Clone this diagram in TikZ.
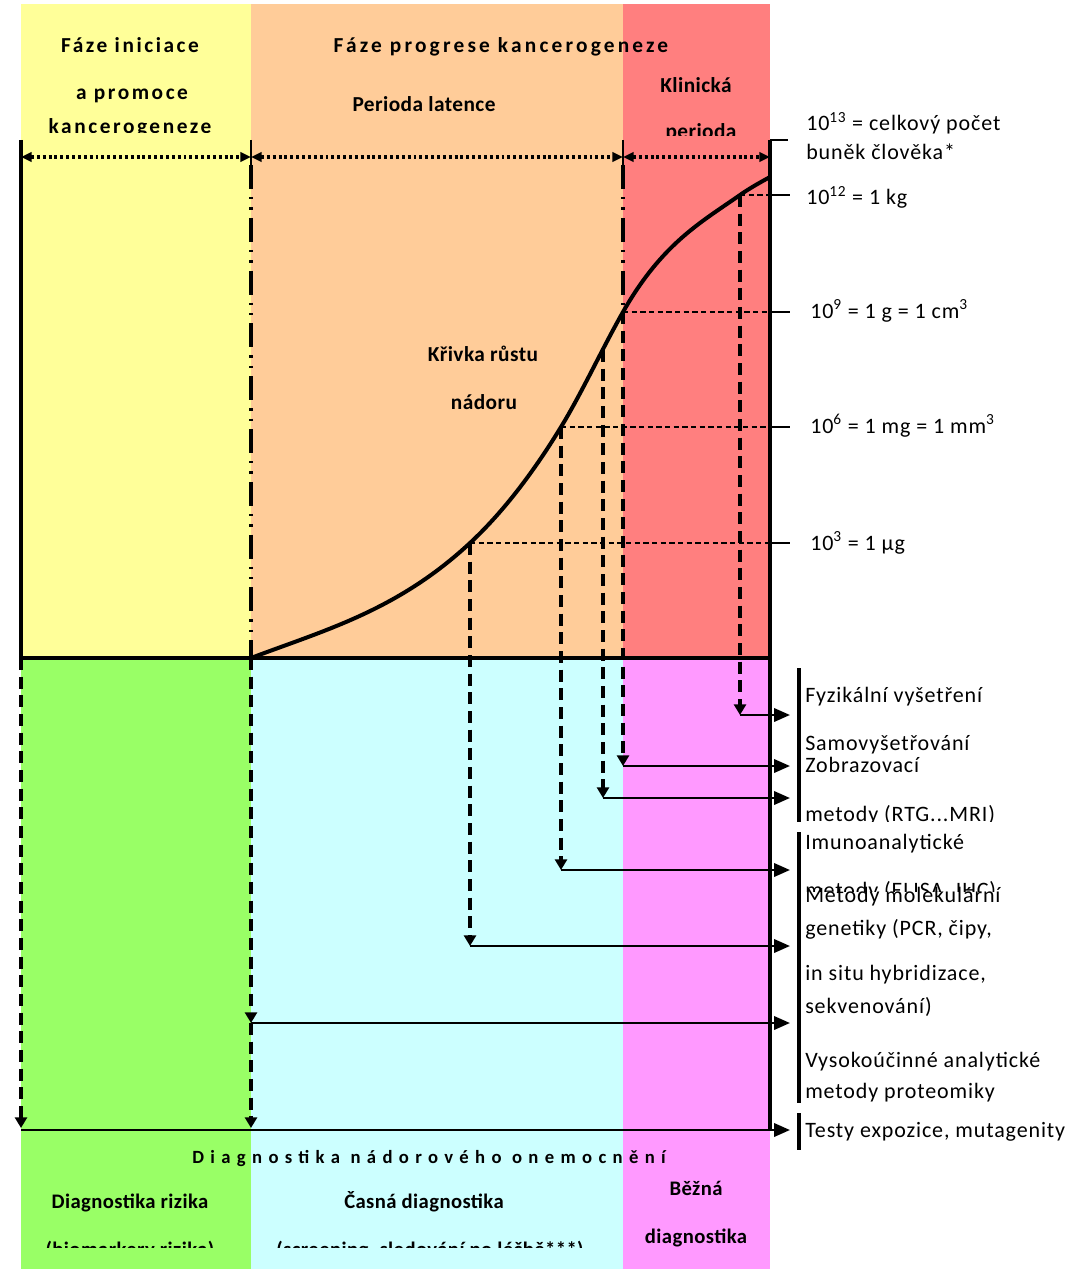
\documentclass[tikz,border=0pt]{standalone}
\usepackage{fontspec}
\setmainfont{Carlito}
\newfontfamily\hdrfont[LetterSpace=12]{Carlito}
\newfontfamily\hdrwfont[LetterSpace=15]{Carlito}
\newfontfamily\widefont[LetterSpace=34]{Carlito}
\newfontfamily\regfont[LetterSpace=4]{Carlito}
\newfontfamily\bldfont[LetterSpace=2]{Carlito}
\usetikzlibrary{arrows.meta}
\definecolor{cY}{HTML}{FFFF99}
\definecolor{cO}{HTML}{FFCC99}
\definecolor{cR}{HTML}{FF7F7F}
\definecolor{cG}{HTML}{99FF66}
\definecolor{cC}{HTML}{CCFFFF}
\definecolor{cP}{HTML}{FF99FF}
\tikzset{
  thickln/.style={line width=3pt},
  curveln/.style={line width=3pt, line cap=round},
  vdash/.style={line width=2.6pt, dash pattern=on 9pt off 5pt, -{Triangle[length=8pt,width=9pt]}},
  hdash/.style={line width=1.1pt, dash pattern=on 4pt off 2.5pt},
  ddot/.style={line width=2.4pt, dash pattern=on 18pt off 6pt on 1.8pt off 6pt on 1.8pt off 6pt},
  dimln/.style={line width=2.6pt, dash pattern=on 2.2pt off 2.2pt, {Triangle[length=8pt,width=7pt]}-{Triangle[length=8pt,width=7pt]}},
  harrow/.style={line width=2pt, -{Triangle[length=12pt,width=10pt]}},
  tickln/.style={line width=1.1pt},
  bracketln/.style={line width=3pt},
  hdr/.style={font={\hdrfont\bfseries\fontsize{16}{19}\selectfont}, inner sep=0pt, anchor=base},
  hdrw/.style={font={\hdrwfont\bfseries\fontsize{16}{19}\selectfont}, inner sep=0pt, anchor=base},
  bld/.style={font={\bldfont\bfseries\fontsize{16}{19}\selectfont}, inner sep=0pt, anchor=base},
  bldb/.style={font={\bldfont\bfseries\fontsize{15.5}{19}\selectfont}, inner sep=0pt, anchor=base},
  widetxt/.style={font={\widefont\bfseries\fontsize{14}{16}\selectfont}, inner sep=0pt, anchor=base},
  reg/.style={font={\regfont\fontsize{16.5}{19}\selectfont}, inner sep=0pt, anchor=base west},
}
\begin{document}
\begin{tikzpicture}[x=0.75pt,y=-0.75pt]
\useasboundingbox (0,0) rectangle (1078,1269);
% background bands
\fill[cY] (21,4) rectangle (251,658);
\fill[cO] (251,4) rectangle (623,658);
\fill[cR] (623,4) rectangle (770,658);
\fill[cG] (21,658) rectangle (251,1269);
\fill[cC] (251,658) rectangle (623,1269);
\fill[cP] (623,658) rectangle (770,1269);

% coordinates
\coordinate (L0) at (21,140);
\coordinate (L1) at (21,658);
\coordinate (L2) at (21,1128);
\coordinate (L3) at (21,1130);
\coordinate (R0) at (770,140);
\coordinate (R1) at (770,1130);
\coordinate (Rt) at (788,140);
\coordinate (A0) at (251,140);
\coordinate (A1) at (251,165);
\coordinate (A2) at (251,658);
\coordinate (A3) at (251,1023);
\coordinate (A4) at (251,1128);
\coordinate (B0) at (623,140);
\coordinate (B1) at (623,165);
\coordinate (P12) at (740,195);
\coordinate (P9) at (623,312);
\coordinate (P8) at (603,350);
\coordinate (P6) at (561,427);
\coordinate (P3) at (470,543);
\coordinate (PE) at (770,177);

% main frame lines
\draw[thickln] (L0) -- (L1);
\draw[thickln] (L1) -- (770,658);
\draw[thickln] (R0) -- (R1);
\draw[tickln] (R0) -- (Rt);
\draw[line width=1.6pt] (A0) -- (A1);
\draw[line width=1.6pt] (B0) -- (B1);
\draw[ddot] (A1) -- (A2);
\draw[ddot] (B1) -- (P9);

% dimension arrows
\draw[dimln] (21,157) -- (251,157);
\draw[dimln] (251,157) -- (623,157);
\draw[dimln] (623,157) -- (770,157);

% thin dashed level lines and ticks
\draw[hdash] (P12) -- (770,195);
\draw[hdash] (P9) -- (770,312);
\draw[hdash] (P6) -- (770,427);
\draw[hdash] (P3) -- (770,543);
\foreach \yy in {195,312,427,543} \draw[tickln] (770,\yy) -- (790,\yy);

% growth curve
\draw[curveln] (A2) .. controls (324,630.3) and (397,610.9) .. (P3)
  .. controls (500.3,514.8) and (530.7,476.7) .. (P6)
  .. controls (581.7,393.1) and (602.3,348.4) .. (P9)
  .. controls (662,243.4) and (701,222.3) .. (P12)
  .. controls (750,188) and (760,182.5) .. (PE);

% vertical dashed arrows
\coordinate (H1) at (740,715);
\coordinate (H2) at (623,766);
\coordinate (H3) at (603,798);
\coordinate (H4) at (561,870);
\coordinate (H5) at (470,946);
\draw[vdash] (P12) -- (H1);
\draw[vdash] (P9) -- (H2);
\draw[vdash] (P8) -- (H3);
\draw[vdash] (P6) -- (H4);
\draw[vdash] (P3) -- (H5);
\draw[vdash] (A2) -- (A3);
\draw[vdash] (A3) -- (A4);
\draw[vdash] (L1) -- (L2);

% horizontal arrows
\draw[harrow] (H1) -- (790,715);
\draw[harrow] (H2) -- (790,766);
\draw[harrow] (H3) -- (790,798);
\draw[harrow] (H4) -- (790,870);
\draw[harrow] (H5) -- (790,946);
\draw[harrow] (A3) -- (790,1023);
\draw[harrow] (L3) -- (790,1130);

% brackets
\draw[bracketln] (799,668) -- (799,822);
\draw[bracketln] (799,832) -- (799,1103);
\draw[bracketln] (799,1113) -- (799,1150);

% header texts
\node[hdr] (t1) at (130,53) {Fáze iniciace};
\node[hdr] (t2) at (132,100) {a promoce};
\begin{scope}
\clip (21,100) rectangle (251,132.5);
\node[hdr] (t3) at (130,134) {kancerogeneze};
\end{scope}
\node[hdrw] (t4) at (501,53) {Fáze progrese kancerogeneze};
\node[bld] (t5) at (424,112) {Perioda latence};
\node[bld] (t6) at (696,93) {Klinická};
\begin{scope}
\clip (623,100) rectangle (770,135.5);
\node[bld] (t7) at (701,139) {perioda};
\end{scope}
\node[bld] (t8) at (483,361) {Křivka růstu};
\node[bld] (t9) at (484,409) {nádoru};

% scale labels
\node[reg] (s1) at (806,131) {10\textsuperscript{13} = celkový počet};
\node[reg] (s2) at (806,160) {buněk člověka*};
\node[reg] (s3) at (806,205) {10\textsuperscript{12} = 1 kg};
\node[reg] (s4) at (810,318) {10\textsuperscript{9} = 1 g = 1 cm\textsuperscript{3}};
\node[reg] (s5) at (810,433) {10\textsuperscript{6} = 1 mg = 1 mm\textsuperscript{3}};
\node[reg] (s6) at (810,550) {10\textsuperscript{3} = 1 µg};

% method labels
\node[reg] (m1) at (805,702) {Fyzikální vyšetření};
\node[reg] (m2) at (805,750) {Samovyšetřování};
\node[reg] (m3) at (805,772) {Zobrazovací};
\begin{scope}
\clip (800,790) rectangle (1078,821.5);
\node[reg] (m4) at (805,821) {metody (RTG...MRI)};
\end{scope}
\node[reg] (m5) at (805,849) {Imunoanalytické};
\begin{scope}
\clip (800,860) rectangle (1078,891);
\node[reg] (m6) at (805,897) {metody (ELISA, IHC),};
\end{scope}
\node[reg] (m7) at (805,902) {Metody molekulární};
\node[reg] (m8) at (805,935) {genetiky (PCR, čipy,};
\node[reg] (m9) at (805,980) {in situ hybridizace,};
\node[reg] (m10) at (805,1013) {sekvenování)};
\node[reg] (m11) at (805,1067) {Vysokoúčinné analytické};
\node[reg] (m12) at (805,1098) {metody proteomiky};
\node[reg] (m13) at (805,1137) {Testy expozice, mutagenity};

% bottom texts
\node[widetxt] (d0) at (429,1163) {Diagnostika nádorového onemocnění};
\node[bldb] (d1) at (130,1208) {Diagnostika rizika};
\node[bldb] (d2) at (424,1208) {Časná diagnostika};
\begin{scope}
\clip (21,1220) rectangle (623,1247);
\node[bldb] (d3) at (130,1256) {(biomarkery rizika)};
\node[bldb] (d4) at (430,1256) {(screening, sledování po léčbě***)};
\end{scope}
\node[bldb] (d5) at (696,1195) {Běžná};
\node[bldb] (d6) at (696,1243) {diagnostika};
\end{tikzpicture}
\end{document}
